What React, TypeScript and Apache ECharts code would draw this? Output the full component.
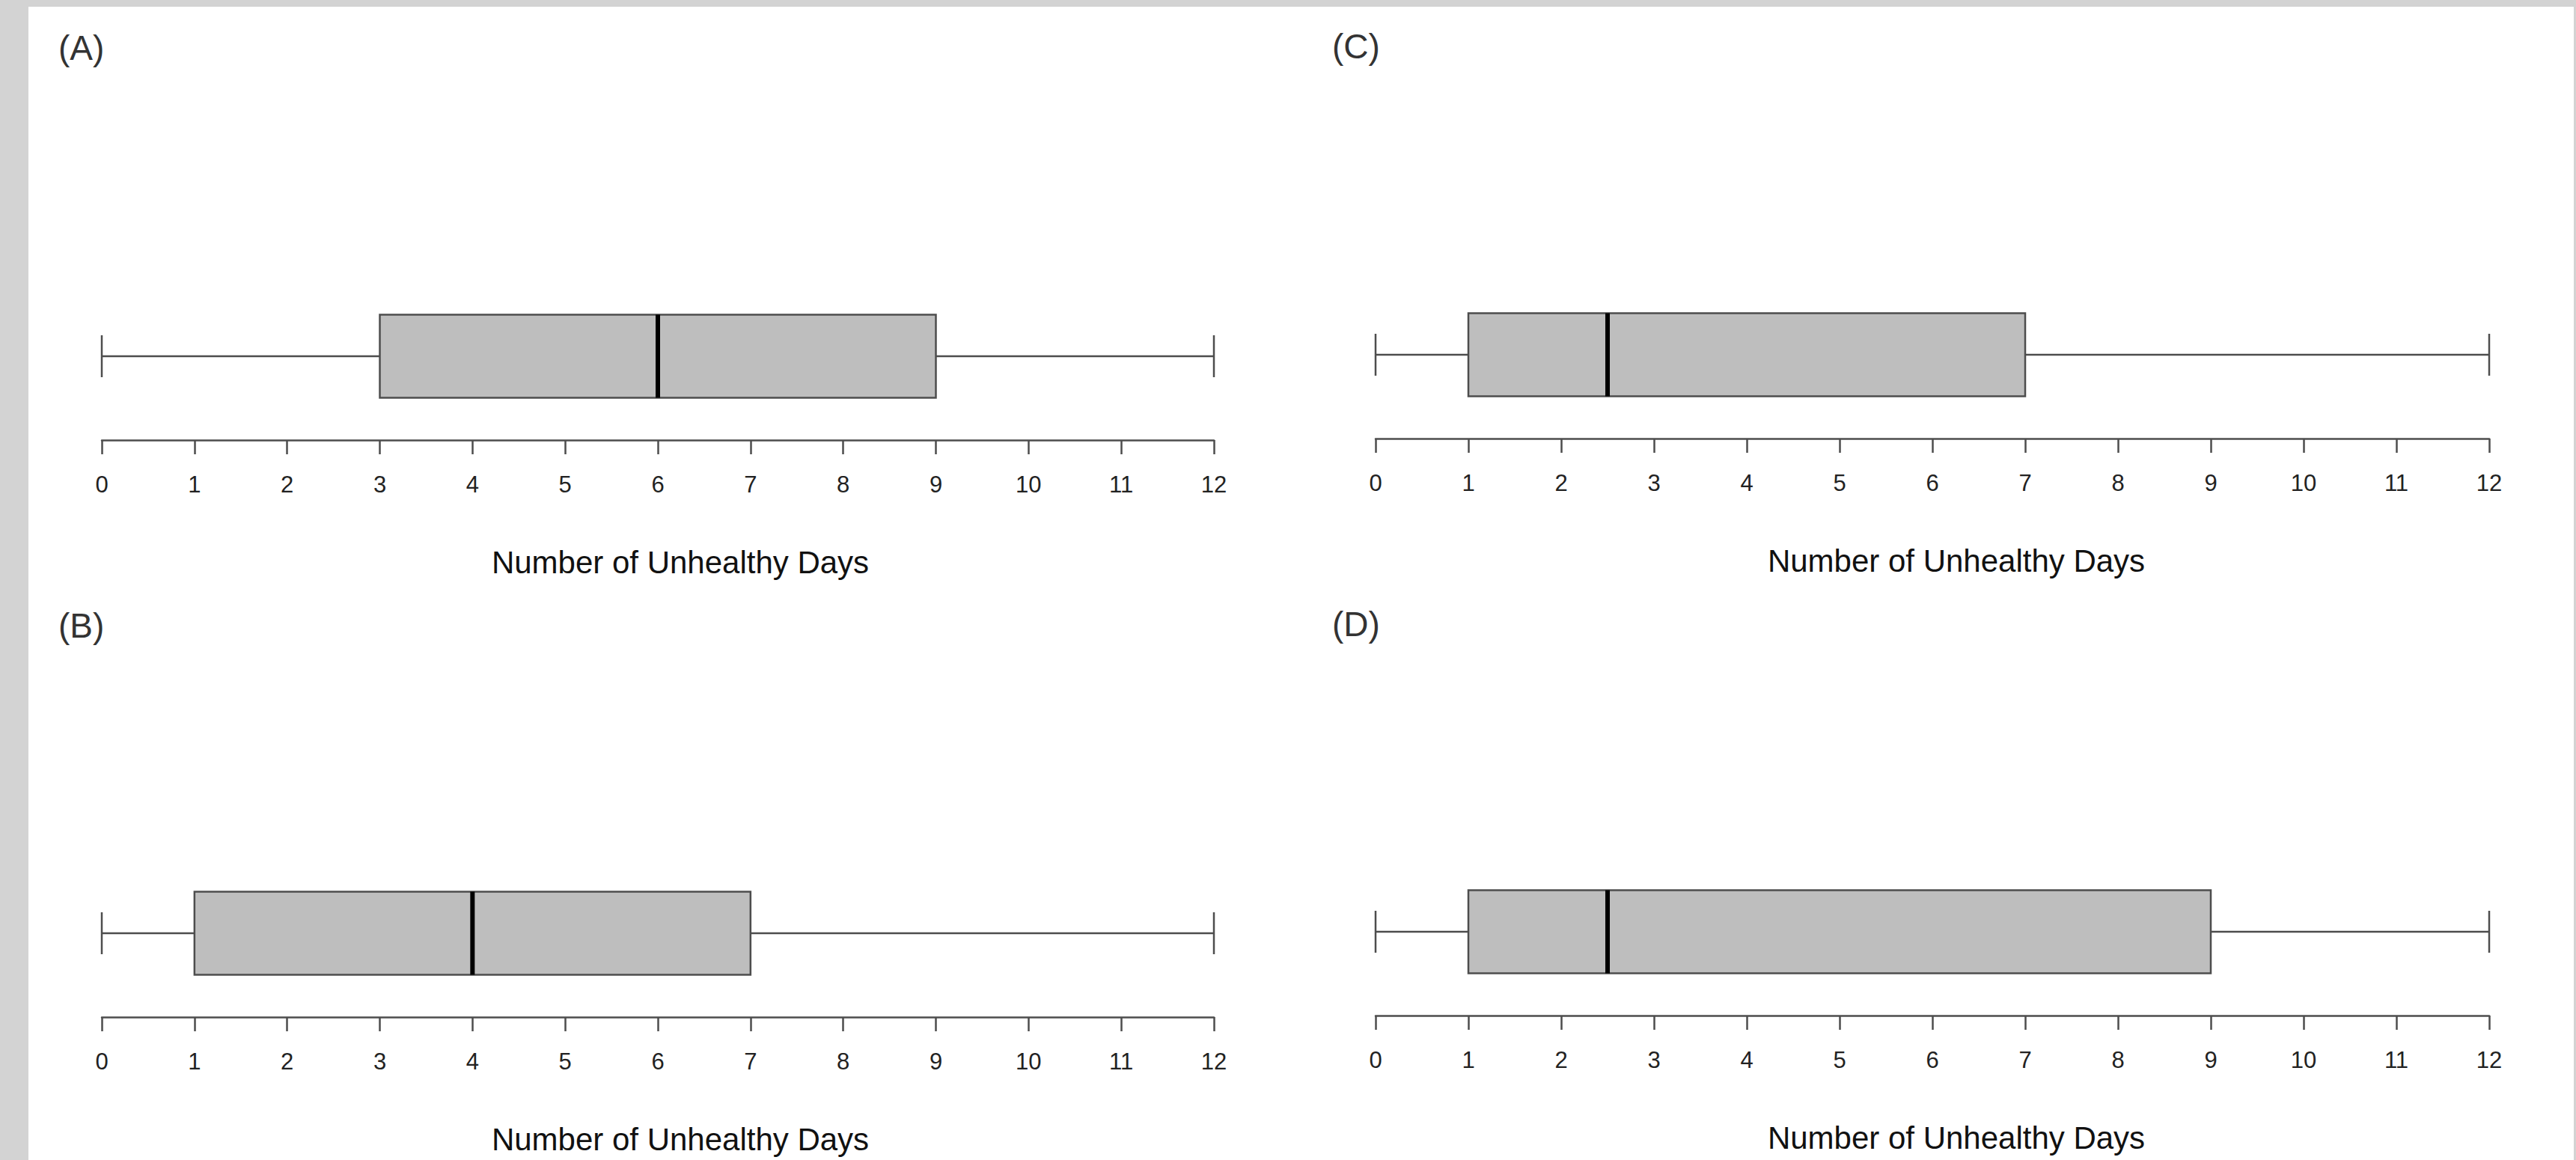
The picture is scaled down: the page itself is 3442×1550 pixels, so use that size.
import React, { useEffect, useRef } from "react";
import * as echarts from "echarts";

// Panel identifiers and their five-number summaries [min, Q1, median, Q3, max]
const panels = ["(A)", "(B)", "(C)", "(D)"];
const summaryA = [0, 3, 6, 9, 12];
const summaryB = [0, 1, 4, 7, 12];
const summaryC = [0, 1, 2.5, 7, 12];
const summaryD = [0, 1, 2.5, 9, 12];
const summaries = [summaryA, summaryB, summaryC, summaryD];
const axisTitle = "Number of Unhealthy Days";
const axisMin = 0;
const axisMax = 12;
const axisStep = 1;

// layout (pixels)
const gridLeft = [136, 136, 1838, 1838];
const gridWidth = [1486, 1486, 1488, 1488];
const gridTop = [364, 1135, 362, 1133];
const gridHeight = 224;
const labelPos = [
  [78, 64],
  [78, 836],
  [1780, 62],
  [1780, 834],
];
const titlePos = [
  [909, 751],
  [909, 1522],
  [2614, 749],
  [2614, 1520],
];

const LINE = "#4d4d4d";
const FONT = "'Liberation Sans', Arial, sans-serif";

export default function App() {
  const ref = useRef<HTMLDivElement>(null);
  useEffect(() => {
    if (!ref.current) return;
    const chart = echarts.init(ref.current, null, { renderer: "svg" });

    const grids = panels.map((_, i) => ({
      left: gridLeft[i],
      top: gridTop[i],
      width: gridWidth[i],
      height: gridHeight,
      containLabel: false,
    }));

    const xAxes = panels.map((_, i) => ({
      type: "value",
      gridIndex: i,
      min: axisMin,
      max: axisMax,
      interval: axisStep,
      position: "bottom",
      splitLine: { show: false },
      axisLine: { show: true, lineStyle: { color: LINE, width: 2.5 } },
      axisTick: { show: true, inside: false, length: 19, lineStyle: { color: LINE, width: 2.5 } },
      axisLabel: {
        show: true,
        margin: 44,
        fontSize: 31,
        fontFamily: FONT,
        color: "#222222",
        showMinLabel: true,
        showMaxLabel: true,
      },
    }));

    const yAxes = panels.map((p, i) => ({
      type: "category",
      gridIndex: i,
      data: [p],
      show: false,
    }));

    const series = summaries.map((s, i) => ({
      type: "custom",
      xAxisIndex: i,
      yAxisIndex: i,
      encode: { x: [1, 2, 3, 4, 5], y: 0 },
      data: [[0, ...s]],
      renderItem: (params: any, api: any) => {
        const yc = api.value(0);
        const mn = api.value(1);
        const q1 = api.value(2);
        const md = api.value(3);
        const q3 = api.value(4);
        const mx = api.value(5);
        const pMin = api.coord([mn, yc]);
        const pQ1 = api.coord([q1, yc]);
        const pMd = api.coord([md, yc]);
        const pQ3 = api.coord([q3, yc]);
        const pMx = api.coord([mx, yc]);
        const band = api.size([0, 1])[1];
        const bh = band * 0.496;
        const ch = band * 0.125;
        const y = pMin[1];
        const lw = 2.5;
        const ls = { stroke: LINE, lineWidth: lw };
        return {
          type: "group",
          children: [
            { type: "line", shape: { x1: pMin[0], y1: y, x2: pQ1[0], y2: y }, style: ls },
            { type: "line", shape: { x1: pMin[0], y1: y - ch, x2: pMin[0], y2: y + ch }, style: ls },
            { type: "line", shape: { x1: pQ3[0], y1: y, x2: pMx[0], y2: y }, style: ls },
            { type: "line", shape: { x1: pMx[0], y1: y - ch, x2: pMx[0], y2: y + ch }, style: ls },
            {
              type: "rect",
              shape: { x: pQ1[0], y: y - bh / 2, width: pQ3[0] - pQ1[0], height: bh },
              style: { fill: "#bebebe", stroke: LINE, lineWidth: lw },
            },
            {
              type: "line",
              shape: { x1: pMd[0], y1: y - bh / 2, x2: pMd[0], y2: y + bh / 2 },
              style: { stroke: "#000000", lineWidth: 6 },
            },
          ],
        };
      },
    }));

    const graphics: any[] = [
      { type: "rect", z: -10, shape: { x: 0, y: 0, width: 3442, height: 1550 }, style: { fill: "#d3d3d3" } },
      { type: "rect", z: -9, shape: { x: 38, y: 9, width: 3401, height: 1541 }, style: { fill: "#ffffff" } },
    ];
    panels.forEach((p, i) => {
      graphics.push({
        type: "text",
        x: labelPos[i][0],
        y: labelPos[i][1],
        style: {
          text: p,
          fontSize: 46,
          fontFamily: FONT,
          fill: "#333333",
          align: "left",
          verticalAlign: "middle",
          textAlign: "left",
          textVerticalAlign: "middle",
        },
      });
      graphics.push({
        type: "text",
        x: titlePos[i][0],
        y: titlePos[i][1],
        style: {
          text: axisTitle,
          fontSize: 42,
          fontFamily: FONT,
          fill: "#111111",
          align: "center",
          verticalAlign: "middle",
          textAlign: "center",
          textVerticalAlign: "middle",
        },
      });
    });

    chart.setOption({
      animation: false,
      backgroundColor: "#ffffff",
      grid: grids,
      xAxis: xAxes,
      yAxis: yAxes,
      series,
      graphic: graphics,
    });
    return () => chart.dispose();
  }, []);

  return (
    <div
      ref={ref}
      style={{ position: "fixed", left: 0, top: 0, width: 3442, height: 1550 }}
    />
  );
}
